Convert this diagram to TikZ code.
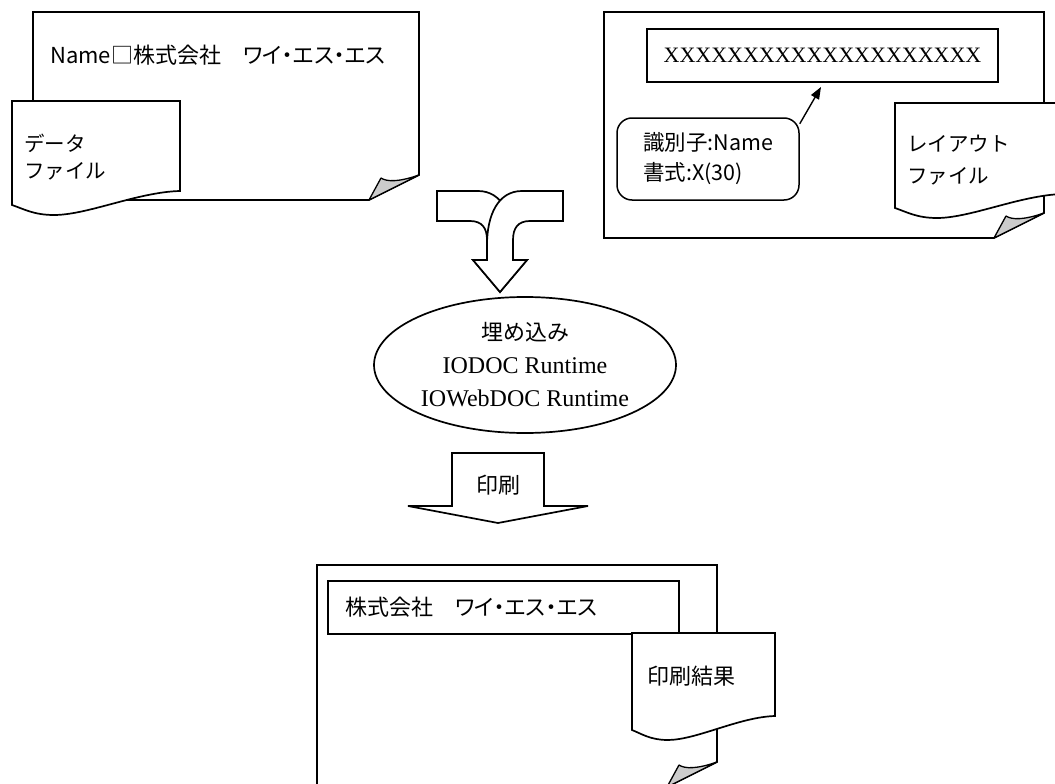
\documentclass[tikz,border=0pt]{standalone}
\usepackage{fontspec}
\setmainfont{Liberation Serif}
\newfontfamily\jpgothic{Noto Sans CJK JP}
\newfontfamily\jpgothicp{Noto Sans CJK JP}[RawFeature=+palt]
\usetikzlibrary{arrows.meta,shapes.geometric}

\tikzset{
  sheet/.style={draw, fill=white, line width=1.7pt, line join=miter},
  curl/.style={draw, fill=black!20, line width=1.3pt, line join=round},
  flow/.style={draw, fill=white, line width=1.7pt, line join=miter},
  fieldbox/.style={draw, fill=white, line width=1.7pt, minimum width=351pt, minimum height=53pt, inner sep=0pt},
  callbox/.style={draw, fill=white, line width=1.5pt, rounded corners=15pt, minimum width=182pt, minimum height=82pt, inner sep=0pt, align=left},
  gothic/.style={font=\jpgothic\fontsize{21}{27}\selectfont, inner sep=0pt},
  pointer/.style={-{Triangle[length=12pt,width=9pt]}, line width=1.4pt},
}

% page with a curled corner: left, top, right, bottom
\newcommand{\curlpage}[4]{%
  \draw[sheet] (#1,#2) -- (#3,#2) -- (#3,{#4-25}) -- ({#3-50},#4) -- (#1,#4) -- cycle;
  \draw[curl] ({#3-50},#4) -- ({#3-38},{#4-22}) .. controls ({#3-32},{#4-18}) and ({#3-20},{#4-18}) .. (#3,{#4-25}) -- cycle;
}
% document tag with wavy bottom: left, top, width, height
\newcommand{\doctag}[4]{%
  \draw[sheet] (#1,#2) -- ({#1+#3},#2) -- ({#1+#3},{#2+#4-14})
    .. controls ({#1+0.75*#3},{#2+#4-13}) and ({#1+0.45*#3},{#2+#4+10}) .. ({#1+0.25*#3},{#2+#4+10})
    .. controls ({#1+0.13*#3},{#2+#4+10}) and ({#1+0.07*#3},{#2+#4+4}) .. (#1,{#2+#4}) -- cycle;
}

\begin{document}
\begin{tikzpicture}[x=1pt,y=-1pt]
  \useasboundingbox (0,0) rectangle (1055,784);
  \clip (0,0) rectangle (1055,784);

  % data file
  \curlpage{33}{12}{419}{200}
  \node[gothic, anchor=west, font=\jpgothicp\fontsize{22}{27}\selectfont] (dataname) at (50,55) {Name□株式会社　ワイ・エス・エス};
  \doctag{12}{101}{168}{104}
  \node[gothic, anchor=west, align=left, font=\jpgothic\fontsize{20.5}{27}\selectfont] (datalabel) at (24,157) {データ\\ファイル};

  % layout file
  \curlpage{604}{12}{1044}{238}
  \node[fieldbox, font=\fontsize{22}{26}\selectfont] (xfield) at (822.5,55.5) {XXXXXXXXXXXXXXXXXXXX};
  \node[callbox, font=\jpgothic\fontsize{21.5}{30}\selectfont] (callout) at (708,159) {識別子:Name\\書式:X(30)};
  \coordinate (ptr) at (821,87);
  \draw[pointer] (callout.21) -- (ptr);
  \doctag{895}{103}{168}{105}
  \node[gothic, anchor=west, align=left, font=\jpgothic\fontsize{20.5}{32}\selectfont] (layoutlabel) at (907,160) {レイアウト\\ファイル};

  % merging arrow
  \path[flow] (437,191) -- (478,191) .. controls (502,191) and (513,215) .. (513,245) -- (513,260) -- (527,260) -- (500,292)
    -- (473,260) -- (487,260) -- (487,240) .. controls (487,228) and (482,221) .. (470,221) -- (437,221) -- cycle;
  \path[flow] (563,191) -- (522,191) .. controls (498,191) and (487,215) .. (487,245) -- (487,260) -- (473,260) -- (500,292)
    -- (527,260) -- (513,260) -- (513,240) .. controls (513,228) and (518,221) .. (530,221) -- (563,221) -- cycle;

  \node[draw, ellipse, line width=1.7pt, minimum width=302pt, minimum height=136pt, inner sep=0pt, align=center,
        font=\fontsize{24}{33}\selectfont] (engine) at (525,365) {{\jpgothic\fontsize{22}{33}\selectfont 埋め込み}\\IODOC Runtime\\IOWebDOC Runtime};

  % print arrow
  \path[flow] (452,453) -- (544,453) -- (544,506) -- (588,506) -- (498,523) -- (408,506) -- (452,506) -- cycle;
  \node[gothic, font=\jpgothic\fontsize{22}{27}\selectfont] (printlabel) at (498,485) {印刷};

  % result
  \curlpage{317}{565}{717}{787}
  \node[fieldbox, text width=317pt, inner xsep=17pt, align=left, font=\jpgothicp\fontsize{22}{26}\selectfont] (resfield) at (503.5,607.5) {株式会社　ワイ・エス・エス};
  \doctag{632}{633}{143}{97}
  \node[gothic, anchor=west, font=\jpgothic\fontsize{22}{27}\selectfont] (resultlabel) at (647,676) {印刷結果};
\end{tikzpicture}
\end{document}
